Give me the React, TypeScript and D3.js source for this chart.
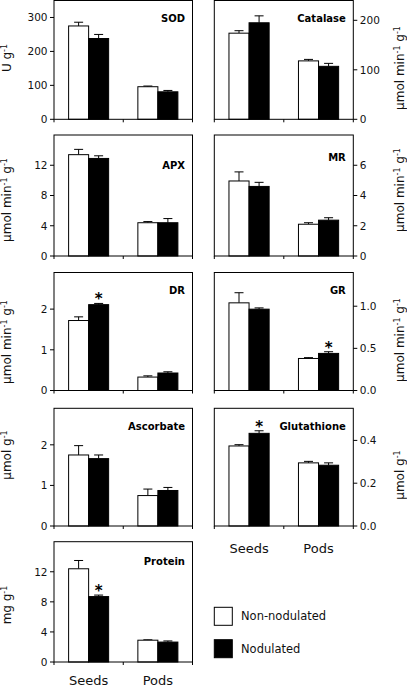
import React from "react";
import * as d3 from "d3";

// ---------- data ----------
const categories = ["Seeds", "Pods"];
const seriesNames = ["Non-nodulated", "Nodulated"];

const sodNon = [275, 96];
const sodNonErr = [11, 2];
const sodNod = [238, 81];
const sodNodErr = [12, 4];
const sodTicks = [0, 100, 200, 300];

const catNon = [174, 118];
const catNonErr = [5, 3];
const catNod = [195, 107];
const catNodErr = [14, 6];
const catTicks = [0, 100, 200];

const apxNon = [13.4, 4.4];
const apxNonErr = [0.7, 0.15];
const apxNod = [12.9, 4.4];
const apxNodErr = [0.35, 0.55];
const apxTicks = [0, 4, 8, 12];

const mrNon = [4.96, 2.1];
const mrNonErr = [0.6, 0.1];
const mrNod = [4.6, 2.37];
const mrNodErr = [0.27, 0.16];
const mrTicks = [0, 2, 4, 6];

const drNon = [1.72, 0.33];
const drNonErr = [0.09, 0.03];
const drNod = [2.11, 0.43];
const drNodErr = [0.03, 0.03];
const drTicks = [0, 1, 2];

const grNon = [1.04, 0.38];
const grNonErr = [0.12, 0.01];
const grNod = [0.965, 0.44];
const grNodErr = [0.015, 0.02];
const grTicks = [0, 0.5, 1.0];

const ascNon = [1.75, 0.75];
const ascNonErr = [0.23, 0.16];
const ascNod = [1.66, 0.875];
const ascNodErr = [0.09, 0.075];
const ascTicks = [0, 1, 2];

const gluNon = [0.374, 0.295];
const gluNonErr = [0.006, 0.007];
const gluNod = [0.433, 0.284];
const gluNodErr = [0.012, 0.011];
const gluTicks = [0.0, 0.2, 0.4];

const proNon = [12.4, 2.9];
const proNonErr = [1.1, 0.05];
const proNod = [8.7, 2.65];
const proNodErr = [0.2, 0.15];
const proTicks = [0, 4, 8, 12];

// significance stars: [seriesIndex, categoryIndex]
const drStars = [[1, 0]];
const grStars = [[1, 1]];
const gluStars = [[1, 0]];
const proStars = [[1, 0]];

// ---------- layout ----------
const W = 407;
const H = 686;
const FONT = "'DejaVu Sans', 'Liberation Sans', Arial, sans-serif";
const colX = [
  [54, 192.5],
  [214.3, 353.3],
];
const rowY = [
  [0.5, 119.3],
  [135, 256],
  [272.5, 390.5],
  [408.3, 526],
  [541.7, 662],
];

type Part = { t: string; sup?: boolean };
const U_G: Part[] = [{ t: "U g" }, { t: "-1", sup: true }];
const UMOL_MIN_G: Part[] = [
  { t: "µmol min" },
  { t: "-1", sup: true },
  { t: " g" },
  { t: "-1", sup: true },
];
const UMOL_G: Part[] = [{ t: "µmol g" }, { t: "-1", sup: true }];
const MG_G: Part[] = [{ t: "mg g" }, { t: "-1", sup: true }];

const panels = [
  { name: "SOD", col: 0, row: 0, max: 350, ticks: sodTicks, fmt: "d", non: sodNon, nonErr: sodNonErr, nod: sodNod, nodErr: sodNodErr, stars: [], unit: U_G, nameOff: 18, titleC: 58, xlab: false },
  { name: "Catalase", col: 1, row: 0, max: 240, ticks: catTicks, fmt: "d", non: catNon, nonErr: catNonErr, nod: catNod, nodErr: catNodErr, stars: [], unit: UMOL_MIN_G, nameOff: 18, titleC: 68, xlab: false },
  { name: "APX", col: 0, row: 1, max: 16, ticks: apxTicks, fmt: "d", non: apxNon, nonErr: apxNonErr, nod: apxNod, nodErr: apxNodErr, stars: [], unit: UMOL_MIN_G, nameOff: 30, titleC: 200, xlab: false },
  { name: "MR", col: 1, row: 1, max: 8, ticks: mrTicks, fmt: "d", non: mrNon, nonErr: mrNonErr, nod: mrNod, nodErr: mrNodErr, stars: [], unit: UMOL_MIN_G, nameOff: 22, titleC: 190, xlab: false },
  { name: "DR", col: 0, row: 2, max: 2.9, ticks: drTicks, fmt: "d", non: drNon, nonErr: drNonErr, nod: drNod, nodErr: drNodErr, stars: drStars, unit: UMOL_MIN_G, nameOff: 17.5, titleC: 342, xlab: false },
  { name: "GR", col: 1, row: 2, max: 1.4, ticks: grTicks, fmt: ".1f", non: grNon, nonErr: grNonErr, nod: grNod, nodErr: grNodErr, stars: grStars, unit: UMOL_MIN_G, nameOff: 18, titleC: 340, xlab: false },
  { name: "Ascorbate", col: 0, row: 3, max: 2.9, ticks: ascTicks, fmt: "d", non: ascNon, nonErr: ascNonErr, nod: ascNod, nodErr: ascNodErr, stars: [], unit: UMOL_G, nameOff: 17.5, titleC: 455, xlab: false },
  { name: "Glutathione", col: 1, row: 3, max: 0.55, ticks: gluTicks, fmt: ".1f", non: gluNon, nonErr: gluNonErr, nod: gluNod, nodErr: gluNodErr, stars: gluStars, unit: UMOL_G, nameOff: 17.5, titleC: 475, xlab: true },
  { name: "Protein", col: 0, row: 4, max: 16, ticks: proTicks, fmt: "d", non: proNon, nonErr: proNonErr, nod: proNod, nodErr: proNodErr, stars: proStars, unit: MG_G, nameOff: 20, titleC: 605, xlab: true },
];

function Title({ parts, x, y }: { parts: Part[]; x: number; y: number }) {
  const kids: any[] = [];
  let raised = false;
  parts.forEach((p, i) => {
    let dy = 0;
    if (p.sup && !raised) {
      dy = -4.5;
      raised = true;
    } else if (!p.sup && raised) {
      dy = 4.5;
      raised = false;
    }
    kids.push(
      <tspan key={i} dy={dy} fontSize={p.sup ? 8 : 12}>
        {p.t}
      </tspan>
    );
  });
  return (
    <text
      transform={`translate(${x},${y}) rotate(-90)`}
      textAnchor="middle"
      fontFamily={FONT}
      fontSize={12}
      fill="#111"
    >
      {kids}
    </text>
  );
}

function Panel({ p }: { p: any }) {
  const [x0, x1] = colX[p.col];
  const [y0, y1] = rowY[p.row];
  const right = p.col === 1;
  const x = d3.scaleBand<string>().domain(categories).range([x0, x1]).paddingInner(0).paddingOuter(0);
  const xs = d3
    .scaleBand<string>()
    .domain(seriesNames)
    .range([0, x.bandwidth()])
    .paddingInner(0)
    .paddingOuter(0.73);
  const y = d3.scaleLinear().domain([0, p.max]).range([y1, y0]);
  const fmt = d3.format(p.fmt);
  const means = [p.non, p.nod];
  const errs = [p.nonErr, p.nodErr];
  const tickLen = 4;
  const axisX = right ? x1 : x0;
  const dir = right ? 1 : -1;
  const xTicks = [x0, (x0 + x1) / 2, x1];
  const capW = 9;

  return (
    <g>
      {/* bars */}
      {seriesNames.map((s, si) =>
        categories.map((c, ci) => {
          const bx = (x(c) as number) + (xs(s) as number);
          const bw = xs.bandwidth();
          const v = means[si][ci];
          const e = errs[si][ci];
          const cx = bx + bw / 2;
          return (
            <g key={s + c}>
              <line x1={cx} x2={cx} y1={y(v)} y2={y(v + e)} stroke="#000" strokeWidth={1} />
              <line x1={cx - capW / 2} x2={cx + capW / 2} y1={y(v + e)} y2={y(v + e)} stroke="#000" strokeWidth={1} />
              <rect
                x={bx}
                y={y(v)}
                width={bw}
                height={y(0) - y(v)}
                fill={si === 0 ? "#fff" : "#000"}
                stroke="#000"
                strokeWidth={1}
              />
            </g>
          );
        })
      )}
      {/* stars */}
      {p.stars.map(([si, ci]: number[], k: number) => {
        const s = seriesNames[si];
        const c = categories[ci];
        const cx = (x(c) as number) + (xs(s) as number) + xs.bandwidth() / 2;
        const top = y(means[si][ci] + errs[si][ci]);
        return (
          <text key={"st" + k} x={cx} y={top + 1} textAnchor="middle" fontFamily={FONT} fontSize={15} fontWeight="bold" fill="#000">
            *
          </text>
        );
      })}
      {/* frame */}
      <rect x={x0} y={y0} width={x1 - x0} height={y1 - y0} fill="none" stroke="#000" strokeWidth={1} />
      {/* y ticks */}
      {p.ticks.map((t: number) => (
        <g key={"yt" + t}>
          <line x1={axisX} x2={axisX + dir * tickLen} y1={y(t)} y2={y(t)} stroke="#000" strokeWidth={1} />
          <text
            x={axisX + dir * (tickLen + 2.5)}
            y={y(t)}
            dy="0.36em"
            textAnchor={right ? "start" : "end"}
            fontFamily={FONT}
            fontSize={10.5}
            fill="#111"
          >
            {fmt(t)}
          </text>
        </g>
      ))}
      {/* x ticks */}
      {xTicks.map((t, i) => (
        <line key={"xt" + i} x1={t} x2={t} y1={y1} y2={y1 + 3} stroke="#000" strokeWidth={1} />
      ))}
      {/* panel name */}
      <text x={x1 - 7.5} y={y0 + p.nameOff + 3.7} textAnchor="end" fontFamily={FONT} fontSize={10} fontWeight="bold" fill="#000">
        {p.name}
      </text>
      {/* unit title */}
      <Title parts={p.unit} x={right ? 404 : 11} y={p.titleC} />
      {/* category labels */}
      {p.xlab &&
        categories.map((c) => (
          <text
            key={"xl" + c}
            x={(x(c) as number) + x.bandwidth() / 2}
            y={y1 + (right ? 27.3 : 22.5)}
            textAnchor="middle"
            fontFamily={FONT}
            fontSize={13}
            fill="#111"
          >
            {c}
          </text>
        ))}
    </g>
  );
}

const legendY = [607.3, 639.7];

export default function App() {
  return (
    <svg
      width={W}
      height={H}
      viewBox={`0 0 ${W} ${H}`}
      style={{ position: "absolute", left: 0, top: 0, background: "#fff", display: "block" }}
    >
      <rect x={0} y={0} width={W} height={H} fill="#fff" />
      {panels.map((p) => (
        <Panel key={p.name} p={p} />
      ))}
      {seriesNames.map((s, i) => (
        <g key={"lg" + s}>
          <rect x={214.3} y={legendY[i]} width={18} height={18} fill={i === 0 ? "#fff" : "#000"} stroke="#000" strokeWidth={1} />
          <text x={241} y={legendY[i] + 9} dy="0.36em" fontFamily={FONT} fontSize={11.5} fill="#111">
            {s}
          </text>
        </g>
      ))}
    </svg>
  );
}
